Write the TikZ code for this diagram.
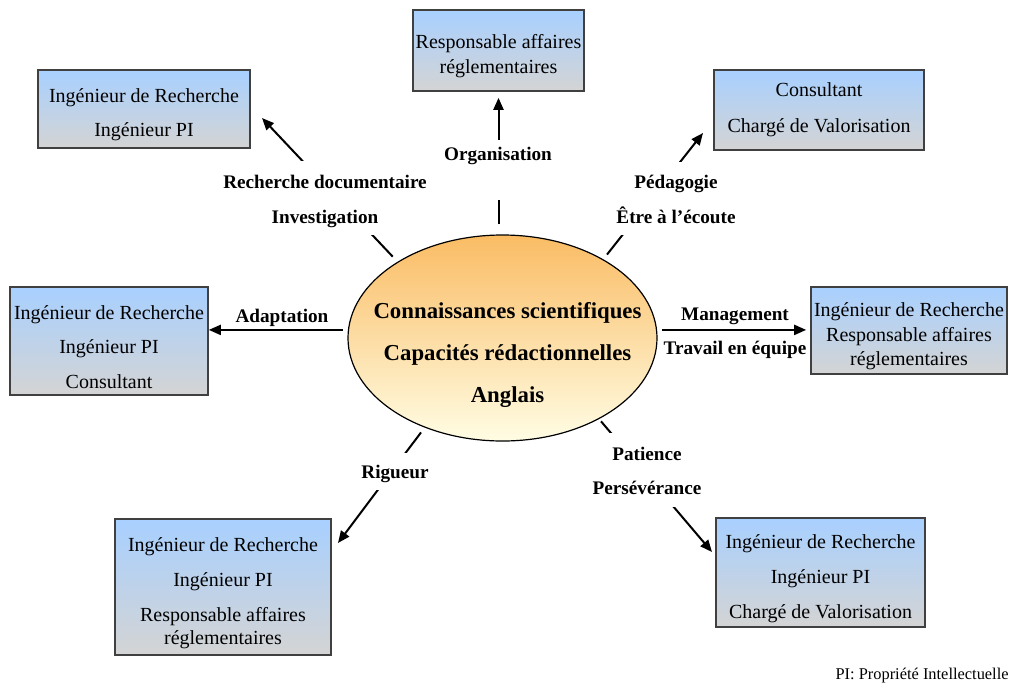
\documentclass[tikz,border=0pt]{standalone}
\usepackage{fontspec}
\setmainfont{Liberation Serif}
\usetikzlibrary{arrows.meta, shapes.geometric}

\definecolor{boxtop}{RGB}{168,208,255}
\definecolor{boxbot}{RGB}{212,212,212}
\definecolor{coretop}{RGB}{250,188,100}
\definecolor{corebot}{RGB}{255,253,228}

% taller first line, pushes the box text a little down
\newcommand{\firstline}{\rule{0pt}{13pt}}

\begin{document}
\begin{tikzpicture}[
  x=0.5pt, y=-0.5pt,
  % Node styles
  core/.style={ellipse, draw=black, line width=0.6pt, top color=coretop, bottom color=corebot,
    minimum width=154.5pt, minimum height=103pt, inner sep=0pt},
  coretext/.style={font=\fontsize{11.4}{21}\selectfont\bfseries, align=center},
  job/.style={rectangle, draw=black!75, line width=0.8pt, top color=boxtop, bottom color=boxbot,
    align=center, inner sep=0pt, font=\fontsize{10}{17.5}\selectfont},
  skill/.style={font=\fontsize{9.6}{11}\selectfont\bfseries, fill=white, inner xsep=2pt, inner ysep=0pt, anchor=base},
  footnote/.style={font=\fontsize{8.2}{10}\selectfont, anchor=base east, inner sep=0pt},
  % Edge styles
  spoke/.style={line width=1pt, -{Triangle[length=6pt, width=5pt]}}
]
\useasboundingbox (0,0) rectangle (1013,687);

% ------------------------------------------------------------
% Centre: core skills
% ------------------------------------------------------------
\node[core] (core) at (502.5,338) {};
\node[coretext] (core_txt) at (507.5,355) {Connaissances scientifiques\\Capacités rédactionnelles\\Anglais};

% ------------------------------------------------------------
% Jobs (one box per direction)
% ------------------------------------------------------------
\node[job, minimum width=106pt, minimum height=39pt, font=\fontsize{10}{17}\selectfont] (box_tl) at (144,109)
  {\firstline Ingénieur de Recherche\\Ingénieur PI};
\node[job, minimum width=85.5pt, minimum height=40.5pt, font=\fontsize{10}{12.5}\selectfont] (box_t) at (498.5,50.5)
  {\firstline Responsable affaires\\réglementaires};
\node[job, minimum width=105pt, minimum height=40pt, font=\fontsize{10}{18}\selectfont] (box_tr) at (819,110)
  {Consultant\\Chargé de Valorisation};
\node[job, minimum width=99pt, minimum height=54pt, font=\fontsize{10}{17.25}\selectfont] (box_l) at (109,341)
  {\firstline Ingénieur de Recherche\\Ingénieur PI\\Consultant};
\node[job, minimum width=98pt, minimum height=43.5pt, font=\fontsize{10}{12.3}\selectfont] (box_r) at (909,330.5)
  {\firstline Ingénieur de Recherche\\Responsable affaires\\réglementaires};
\node[job, minimum width=108pt, minimum height=68pt] (box_bl) at (223,587)
  {\firstline Ingénieur de Recherche\\Ingénieur PI\\Responsable affaires\\[-6pt]réglementaires};
\node[job, minimum width=104.5pt, minimum height=54.5pt] (box_br) at (820.5,572.5)
  {\firstline Ingénieur de Recherche\\Ingénieur PI\\Chargé de Valorisation};

% arrow tips of the slanted spokes
\coordinate (tip_tl) at (262,118);
\coordinate (tip_tr) at (703,133);
\coordinate (tip_bl) at (338,543);
\coordinate (tip_br) at (712,552);

% ------------------------------------------------------------
% Spokes (labels drawn afterwards cover the line)
% ------------------------------------------------------------
\draw[spoke, shorten <=3.5pt] (core.144) -- (tip_tl);
\draw[spoke, shorten <=5pt, shorten >=3pt] (core.north -| box_t.south) -- (box_t.south);
\draw[spoke, shorten <=3pt] (core.38) -- (tip_tr);
\draw[spoke, shorten <=2.5pt] (core.177) -- (box_l.east |- core.177);
\draw[spoke, shorten <=2.5pt, shorten >=2pt] (core.3) -- (box_r.west |- core.3);
\draw[spoke, shorten <=3pt] (core.229) -- (tip_bl);
\draw[spoke, shorten <=1.5pt] (core.320) -- (tip_br);

% ------------------------------------------------------------
% Skill labels
% ------------------------------------------------------------
\node[skill, text height=13.5pt, text depth=7pt]   (lab_rech) at (325,188) {Recherche documentaire};
\node[skill, text height=12.5pt, text depth=6pt]   (lab_inv)  at (325,223) {Investigation};
\node[skill, text height=10pt, text depth=20pt]    (lab_org)  at (498,160) {Organisation};
\node[skill, text height=13pt, text depth=7pt]     (lab_ped)  at (676,188) {Pédagogie};
\node[skill, text height=12.5pt, text depth=6pt]   (lab_ecou) at (676,223) {Être à l’écoute};
\node[skill, fill=none] (lab_ada) at (282,322) {Adaptation};
\node[skill, fill=none] (lab_man) at (735,320) {Management};
\node[skill, fill=none] (lab_trav) at (735,354) {Travail en équipe};
\node[skill, text height=12.5pt, text depth=6pt]   (lab_rig)  at (395,478) {Rigueur};
\node[skill, text height=13.5pt, text depth=7pt]   (lab_pat)  at (647,460) {Patience};
\node[skill, text height=12.5pt, text depth=6.5pt] (lab_pers) at (647,494) {Persévérance};

\node[footnote] (note) at (1009,679) {PI: Propriété Intellectuelle};

\end{tikzpicture}
\end{document}
